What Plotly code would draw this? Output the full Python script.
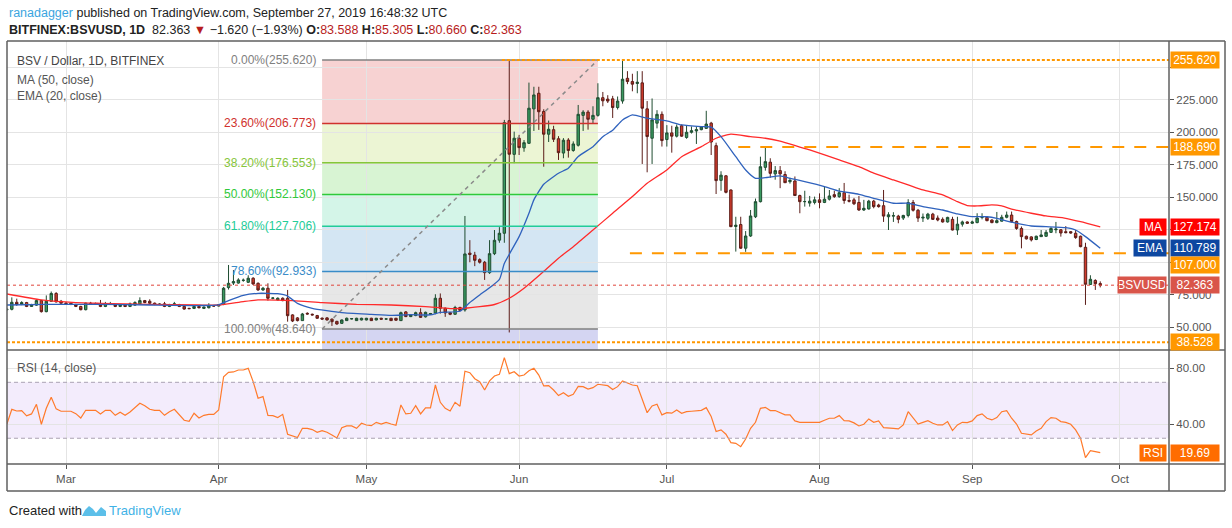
import plotly.graph_objects as go
from plotly.subplots import make_subplots
import pandas as pd

# ------------------------------------------------------------------ data
first_day = "2019-02-17"
last_day = "2019-09-27"

# [open, high, low, close] per day
ohlc_feb = [
    [63.5, 64.5, 62.8, 63.8], [63.8, 73.0, 63.0, 69.2], [69.2, 72.0, 66.5, 67.5],
    [67.5, 70.0, 67.0, 69.0], [69.0, 69.5, 65.5, 66.0], [66.0, 68.0, 65.8, 67.2],
    [67.0, 71.5, 66.5, 70.5], [70.5, 71.0, 61.3, 62.0], [62.0, 74.5, 61.5, 70.0],
    [70.0, 77.5, 69.5, 76.0], [76.0, 77.0, 69.0, 69.5], [70.0, 71.0, 68.0, 68.5],
]
ohlc_mar = [
    [68.5, 69.5, 67.5, 68.0], [68.5, 69.0, 67.0, 67.5], [67.5, 68.0, 65.5, 66.0],
    [66.0, 66.5, 63.0, 63.5], [63.5, 69.0, 63.0, 68.5], [68.5, 69.5, 67.5, 68.0],
    [68.0, 69.0, 67.5, 68.2], [68.0, 71.0, 65.5, 66.0], [66.0, 69.5, 65.5, 68.0],
    [68.0, 69.5, 67.5, 68.2], [67.5, 68.0, 65.5, 66.0], [66.0, 67.5, 65.5, 67.0],
    [67.0, 67.5, 65.5, 66.0], [66.0, 69.0, 65.5, 68.0], [67.0, 70.0, 66.5, 69.0],
    [68.0, 73.0, 67.5, 70.5], [70.5, 71.0, 68.5, 69.0], [70.0, 71.5, 68.0, 68.5],
    [68.5, 69.0, 67.0, 67.5], [67.5, 68.5, 67.0, 67.8], [68.0, 69.5, 65.5, 66.0],
    [66.0, 68.0, 65.5, 67.5], [67.5, 69.5, 67.0, 68.0], [67.5, 68.0, 65.5, 66.0],
    [66.0, 66.5, 63.5, 64.0], [64.5, 65.0, 64.0, 64.3], [64.5, 66.5, 64.0, 66.0],
    [66.0, 66.5, 64.5, 65.0], [64.5, 66.0, 64.0, 65.5], [65.0, 68.5, 64.5, 66.5],
    [66.5, 67.0, 66.0, 66.3],
]
ohlc_apr = [
    [66.3, 67.8, 66.0, 67.5], [67.5, 81.0, 67.0, 80.0], [80.5, 97.9, 79.0, 83.8],
    [84.0, 94.0, 82.5, 85.1], [84.0, 87.7, 83.5, 86.4], [86.0, 87.5, 85.0, 86.2],
    [84.6, 90.0, 84.0, 87.7], [87.7, 88.5, 82.5, 83.3], [83.8, 84.5, 78.0, 78.7],
    [78.7, 81.0, 78.0, 80.0], [80.0, 83.8, 70.5, 72.3], [72.3, 73.0, 71.5, 72.5],
    [71.0, 73.0, 70.5, 72.3], [72.3, 73.0, 70.0, 70.5], [72.3, 78.7, 54.3, 58.9],
    [59.5, 60.0, 54.0, 54.8], [57.2, 57.8, 54.5, 55.1], [55.1, 61.0, 55.0, 60.2],
    [60.7, 61.5, 59.8, 60.2], [60.0, 60.5, 59.0, 59.5], [59.0, 59.5, 56.5, 56.9],
    [57.0, 57.5, 55.8, 56.3], [57.2, 57.8, 55.2, 55.6], [56.2, 56.8, 51.0, 54.3],
    [54.5, 55.0, 52.0, 52.5], [53.0, 56.0, 52.5, 55.6], [55.1, 57.5, 54.8, 56.9],
    [56.4, 57.0, 56.0, 56.6], [55.1, 57.3, 54.8, 56.9], [55.6, 57.3, 55.3, 56.9],
]
ohlc_may = [
    [55.6, 57.2, 55.3, 56.9], [56.9, 57.3, 54.8, 55.1], [55.6, 57.2, 55.3, 56.9],
    [56.9, 57.3, 55.8, 56.2], [56.3, 56.8, 55.8, 56.4], [56.9, 57.2, 54.8, 55.1],
    [56.9, 57.2, 55.0, 55.4], [55.1, 62.0, 54.8, 61.2], [61.8, 62.5, 57.8, 58.2],
    [58.2, 60.0, 57.8, 59.5], [59.0, 62.0, 58.5, 61.2], [61.2, 64.6, 57.2, 57.6],
    [58.0, 62.0, 57.5, 61.5], [59.9, 61.0, 59.5, 60.5], [61.0, 75.4, 60.0, 72.3],
    [72.3, 76.0, 60.5, 64.6], [64.6, 65.2, 58.0, 61.0], [61.2, 61.8, 59.3, 60.0],
    [60.0, 66.5, 59.5, 65.2], [65.2, 65.8, 62.3, 63.0], [63.3, 135.6, 62.0, 106.4],
    [107.0, 117.0, 100.0, 106.0], [105.5, 108.0, 97.0, 101.5], [102.0, 103.0, 99.0, 100.0],
    [100.0, 101.0, 86.4, 92.0], [92.0, 117.0, 91.0, 106.6], [106.6, 124.8, 105.5, 116.9],
    [117.0, 127.0, 115.0, 122.3], [122.3, 209.5, 115.0, 207.4], [208.9, 255.62, 46.0, 183.1],
    [183.0, 200.5, 176.2, 195.4],
]
ohlc_jun = [
    [195.4, 198.0, 182.5, 188.2], [188.0, 194.0, 185.0, 192.0], [191.5, 238.2, 191.0, 218.5],
    [218.0, 235.0, 201.0, 228.7], [230.0, 235.0, 201.8, 215.8], [216.0, 217.7, 173.5, 198.5],
    [198.5, 209.0, 192.5, 202.3], [202.0, 205.0, 192.5, 194.6], [195.0, 197.0, 178.7, 184.3],
    [184.0, 195.5, 180.0, 193.9], [194.0, 195.5, 180.5, 186.0], [186.0, 193.0, 185.0, 191.0],
    [190.0, 221.0, 189.0, 213.8], [213.0, 217.0, 201.0, 215.5], [215.5, 217.0, 202.0, 210.0],
    [210.0, 220.0, 207.0, 213.0], [213.0, 237.7, 212.0, 226.6], [226.6, 231.0, 220.0, 224.2],
    [225.5, 228.5, 222.5, 224.0], [225.7, 228.0, 211.0, 219.0], [219.0, 227.5, 217.5, 224.0],
    [224.0, 255.62, 222.0, 240.8], [241.5, 247.0, 237.0, 239.0], [239.0, 245.0, 231.5, 237.0],
    [237.5, 247.0, 230.0, 238.5], [238.0, 247.0, 175.6, 218.5], [218.0, 224.0, 169.2, 196.7],
    [195.4, 226.0, 175.6, 209.5], [207.0, 217.0, 203.0, 213.8], [213.8, 216.0, 189.0, 193.6],
]
ohlc_jul = [
    [194.4, 205.5, 189.0, 199.5], [199.5, 205.0, 184.3, 197.0], [197.0, 206.0, 196.0, 204.0],
    [205.0, 206.0, 196.5, 197.0], [196.0, 205.0, 195.0, 200.0], [200.0, 204.5, 199.0, 201.2],
    [201.0, 204.5, 191.0, 202.0], [202.0, 204.5, 201.5, 204.0], [203.0, 216.5, 202.5, 206.3],
    [207.0, 208.0, 182.5, 192.5], [189.7, 192.0, 152.5, 162.8], [163.0, 170.0, 155.0, 167.0],
    [166.5, 167.0, 153.0, 153.8], [155.6, 156.0, 127.0, 127.4], [127.5, 135.0, 108.2, 128.5],
    [129.0, 135.0, 110.3, 110.8], [110.8, 124.0, 108.0, 120.2], [120.2, 140.2, 119.5, 135.6],
    [135.0, 149.0, 134.0, 146.6], [146.6, 181.2, 146.0, 173.5], [173.0, 188.9, 170.5, 177.4],
    [177.0, 180.0, 165.0, 168.4], [168.0, 174.0, 163.5, 170.5], [170.5, 174.0, 157.0, 168.0],
    [167.5, 170.0, 161.0, 161.2], [162.0, 165.0, 160.5, 163.0], [162.5, 166.0, 151.0, 151.3],
    [151.3, 152.0, 137.7, 146.6], [146.6, 155.0, 142.8, 146.7], [145.5, 151.0, 142.8, 147.0],
    [146.0, 150.5, 144.5, 148.0],
]
ohlc_aug = [
    [148.0, 153.0, 141.5, 146.0], [146.0, 158.0, 145.5, 148.5], [148.5, 155.6, 147.5, 151.0],
    [152.0, 155.0, 149.5, 150.5], [150.5, 157.0, 149.5, 153.5], [153.5, 161.0, 145.0, 147.5],
    [147.5, 152.0, 146.0, 147.0], [148.0, 149.5, 144.0, 145.0], [146.0, 151.0, 139.5, 140.2],
    [140.2, 148.0, 139.5, 141.5], [141.0, 148.0, 140.5, 147.0], [147.0, 148.0, 141.5, 142.8],
    [144.0, 145.0, 142.0, 142.8], [143.5, 155.6, 131.0, 135.5], [135.0, 138.5, 124.8, 136.5],
    [135.5, 138.5, 131.0, 135.8], [135.5, 136.5, 130.0, 133.0], [134.0, 136.5, 132.5, 136.0],
    [136.0, 148.5, 134.5, 145.9], [146.0, 147.9, 139.0, 140.0], [140.0, 141.0, 131.0, 134.0],
    [134.0, 137.5, 131.0, 134.6], [133.8, 138.0, 132.5, 137.0], [137.0, 138.0, 132.5, 133.0],
    [134.0, 136.0, 131.5, 132.5], [133.0, 134.5, 130.5, 131.0], [131.0, 135.0, 130.5, 134.5],
    [133.0, 135.0, 124.5, 124.8], [124.8, 135.0, 121.0, 129.3], [129.3, 132.0, 127.4, 131.0],
    [131.0, 131.5, 129.5, 130.0],
]
ohlc_sep = [
    [130.0, 132.0, 129.5, 131.0], [130.5, 137.7, 130.0, 134.0], [134.5, 137.7, 133.0, 135.0],
    [134.5, 135.5, 131.5, 132.0], [132.5, 133.0, 130.0, 130.5], [130.5, 138.7, 130.0, 132.0],
    [131.6, 136.5, 131.3, 134.6], [134.6, 139.0, 133.8, 136.3], [136.3, 139.0, 130.5, 131.3],
    [131.3, 132.0, 125.0, 126.0], [126.0, 127.5, 110.7, 119.7], [120.0, 120.5, 117.5, 118.0],
    [119.5, 120.0, 116.0, 117.2], [117.5, 120.5, 117.0, 120.0], [119.7, 124.8, 119.5, 121.0],
    [120.0, 124.8, 119.5, 123.0], [123.0, 127.0, 122.5, 126.0], [125.0, 131.0, 122.3, 125.5],
    [125.0, 125.5, 119.7, 122.5], [123.5, 127.8, 122.3, 122.8], [123.5, 124.0, 122.0, 122.5],
    [122.3, 124.8, 118.0, 119.0], [120.0, 120.5, 111.5, 112.0], [111.5, 115.0, 67.2, 83.1],
    [82.9, 90.0, 82.5, 86.9], [86.0, 86.9, 78.7, 83.5], [83.588, 85.305, 80.66, 82.363],
]

# RSI(14) per day
rsi_feb = [40.2, 50.7, 49.5, 49.8, 46, 47.4, 54.3, 40, 51.4, 59.3, 51, 49.3]
rsi_mar = [49.3, 49.3, 47.6, 44.5, 50, 50, 50, 47.4, 50, 50, 46.4, 48.6, 46.4, 48.8, 51.9, 55,
           53.3, 50.7, 50, 50, 46.4, 49, 50.7, 46.7, 42.9, 42.1, 47.9, 44.5, 46.4, 47.1, 47.1]
rsi_apr = [50.2, 74, 77.1, 77.4, 78.8, 78.8, 80, 70.5, 58.6, 59.8, 46.4, 46.2, 44.8, 47.1, 32.9,
           31.7, 30.5, 37.1, 37.1, 36.2, 34.3, 35.5, 34.3, 32.4, 30.2, 37.6, 38.8, 38.8, 37.1, 40.7]
rsi_may = [39.5, 39, 41.4, 40.2, 41.4, 40.2, 39.3, 53.8, 47.4, 47.9, 53.3, 47.4, 51.7, 51.7, 68.1,
           55.7, 51.4, 49.5, 55.7, 52.9, 77.9, 76.9, 72.6, 70.5, 64.5, 71, 74.5, 75.7, 87.6, 76.2, 77.6]
rsi_jun = [74.5, 75.2, 78.3, 80, 75.2, 67.4, 67.6, 64.5, 60.5, 62.6, 60, 61.4, 67.1, 66.9, 65.2,
           66.2, 68.6, 68.1, 67.6, 64.8, 66.9, 71, 69.3, 68.1, 67.6, 57.4, 48.3, 53.1, 54.3, 46.7]
rsi_jul = [48.3, 47.9, 50.2, 47.9, 49, 49.3, 49.8, 50, 51.9, 45.5, 34.8, 36, 32.9, 26.9, 26.4, 24,
           29.5, 37.1, 41.4, 51.4, 52.1, 49.8, 49.8, 48.3, 46.7, 46.7, 42.4, 41.4, 41.4, 41.4, 41.9]
rsi_aug = [41.4, 42.9, 44.3, 44.3, 46.2, 42.6, 42.4, 41, 38.8, 40, 43.8, 41.4, 42.4, 37.6, 37.6,
           37.1, 36.7, 39.5, 49, 44.3, 40.2, 41.4, 42.6, 40.7, 39.5, 39.5, 41.9, 35.5, 39.5, 41.4, 41.2]
rsi_sep = [42.4, 46.2, 47.4, 44.3, 43.1, 44.8, 49, 49.8, 44.3, 40.2, 33.6, 32.9, 32.4, 35.2, 37.1,
           41.9, 44.8, 44.3, 41.9, 41.4, 40, 36, 30, 16.2, 21.2, 20.5, 19.69]

# MA(50) and EMA(20)
ma_dates = ["2019-02-17", "2019-02-24", "2019-03-03", "2019-03-08", "2019-03-18", "2019-03-28",
            "2019-04-01", "2019-04-06", "2019-04-09", "2019-04-16", "2019-04-22", "2019-04-29",
            "2019-05-06", "2019-05-13", "2019-05-18", "2019-05-21", "2019-05-27", "2019-05-30",
            "2019-06-02", "2019-06-06", "2019-06-09", "2019-06-12", "2019-06-16", "2019-06-20",
            "2019-06-24", "2019-06-27", "2019-07-01", "2019-07-04", "2019-07-08", "2019-07-11",
            "2019-07-14", "2019-07-18", "2019-07-21", "2019-07-24", "2019-07-28", "2019-07-30",
            "2019-08-05", "2019-08-09", "2019-08-12", "2019-08-16", "2019-08-19", "2019-08-22",
            "2019-08-26", "2019-08-29", "2019-08-31", "2019-09-02", "2019-09-05", "2019-09-07",
            "2019-09-09", "2019-09-13", "2019-09-16", "2019-09-20", "2019-09-23", "2019-09-27"]
ma_values = [75.6, 71.0, 68.9, 68.4, 67.6, 67.1, 67.1, 69.7, 71.0, 70.5, 69.0, 67.6, 67.1, 65.9,
             64.3, 64.6, 67.5, 72.3, 80.0, 93.0, 103.1, 112.0, 124.8, 137.7, 150.5, 160.8, 171.0,
             181.2, 188.9, 195.4, 198.5, 196.6, 195.4, 193.1, 188.6, 186.4, 178.7, 173.5, 168.5,
             163.3, 159.5, 155.6, 151.8, 146.6, 143.6, 143.3, 144.1, 143.3, 140.8, 137.7, 135.6,
             133.8, 131.2, 127.174]

ema_dates = ["2019-02-17", "2019-02-25", "2019-03-08", "2019-03-18", "2019-03-28", "2019-04-01",
             "2019-04-03", "2019-04-06", "2019-04-09", "2019-04-13", "2019-04-15", "2019-04-17",
             "2019-04-20", "2019-04-26", "2019-05-02", "2019-05-06", "2019-05-10", "2019-05-14",
             "2019-05-16", "2019-05-20", "2019-05-22", "2019-05-24", "2019-05-28", "2019-05-29",
             "2019-06-01", "2019-06-03", "2019-06-04", "2019-06-06", "2019-06-09", "2019-06-11",
             "2019-06-13", "2019-06-16", "2019-06-18", "2019-06-20", "2019-06-22", "2019-06-24",
             "2019-06-27", "2019-07-01", "2019-07-04", "2019-07-08", "2019-07-10", "2019-07-12",
             "2019-07-15", "2019-07-17", "2019-07-19", "2019-07-21", "2019-07-24", "2019-07-26",
             "2019-07-29", "2019-08-02", "2019-08-05", "2019-08-09", "2019-08-12", "2019-08-16",
             "2019-08-19", "2019-08-22", "2019-08-26", "2019-08-29", "2019-09-01", "2019-09-04",
             "2019-09-06", "2019-09-09", "2019-09-13", "2019-09-16", "2019-09-20", "2019-09-22",
             "2019-09-24", "2019-09-27"]
ema_values = [67.1, 67.6, 67.6, 67.1, 66.7, 67.3, 70.5, 74.6, 76.1, 75.8, 74.0, 68.4, 64.6, 61.2,
              59.9, 59.1, 59.7, 59.5, 61.5, 62.3, 69.0, 74.8, 86.9, 99.0, 119.7, 137.7, 148.0,
              160.0, 168.5, 172.3, 181.3, 188.9, 196.6, 201.5, 209.5, 213.3, 210.8, 208.7, 205.6,
              204.3, 204.0, 196.6, 181.2, 171.0, 164.6, 165.1, 166.4, 164.6, 162.0, 158.2, 154.8,
              152.3, 149.2, 145.4, 145.4, 142.8, 140.2, 137.2, 135.1, 135.0, 133.8, 130.8, 127.9,
              127.4, 126.6, 124.8, 119.7, 110.789]

# Fibonacci retracement
fib_start, fib_end = "2019-04-22", "2019-06-17"
fib_pcts = ["0.00%", "23.60%", "38.20%", "50.00%", "61.80%", "78.60%", "100.00%"]
fib_levels = [255.620, 206.773, 176.553, 152.130, 127.706, 92.933, 48.640]

# Horizontal levels
level_top, level_mid, level_sr, level_low = 255.620, 188.690, 107.000, 38.528
level_top_from, level_mid_from, level_sr_from = "2019-05-28 12:00", "2019-07-15 12:00", "2019-06-23 12:00"
last_price, last_ma, last_ema, last_rsi = 82.363, 127.174, 110.789, 19.69

price_ticks = [50, 75, 100, 125, 150, 175, 200, 225, 250]
price_ticktext = ["50.000", "75.000", "", "", "150.000", "175.000", "200.000", "225.000", ""]
rsi_ticks = [40, 80]
rsi_ticktext = ["40.00", "80.00"]

# ------------------------------------------------------------------ build
ohlc = ohlc_feb + ohlc_mar + ohlc_apr + ohlc_may + ohlc_jun + ohlc_jul + ohlc_aug + ohlc_sep
rsi = rsi_feb + rsi_mar + rsi_apr + rsi_may + rsi_jun + rsi_jul + rsi_aug + rsi_sep
dates = pd.date_range(first_day, last_day, freq="D")
opens = [r[0] for r in ohlc]
highs = [r[1] for r in ohlc]
lows = [r[2] for r in ohlc]
closes = [r[3] for r in ohlc]

W, H = 1232, 528
PL, PR, PT, PB = 7, 1169, 41, 464   # plot area in pixels
SPLIT = 350
XR = ["2019-02-17 00:30", "2019-10-10 23:00"]
FONT = "Liberation Sans, Arial, sans-serif"


def pxx(x):
    return (x - PL) / (PR - PL)


def pxy(y):
    return (PB - y) / (PB - PT)


fig = make_subplots(rows=2, cols=1, shared_xaxes=True, vertical_spacing=0,
                    row_heights=[SPLIT - PT, PB - SPLIT])

fig.add_trace(go.Candlestick(
    x=dates, open=opens, high=highs, low=lows, close=closes,
    increasing=dict(line=dict(color="#1f4d31", width=1), fillcolor="#3a9a60"),
    decreasing=dict(line=dict(color="#5c1d18", width=1), fillcolor="#d13b2c"),
    whiskerwidth=0, showlegend=False, hoverinfo="skip"), row=1, col=1)

fig.add_trace(go.Scatter(x=ma_dates, y=ma_values, mode="lines",
                         line=dict(color="#ff2a2a", width=1.3, shape="spline", smoothing=0.5),
                         showlegend=False, hoverinfo="skip"), row=1, col=1)
fig.add_trace(go.Scatter(x=ema_dates, y=ema_values, mode="lines",
                         line=dict(color="#2f62bd", width=1.3, shape="spline", smoothing=0.5),
                         showlegend=False, hoverinfo="skip"), row=1, col=1)

fig.add_trace(go.Scatter(x=dates, y=rsi, mode="lines",
                         line=dict(color="#ff7a2b", width=1.2),
                         showlegend=False, hoverinfo="skip"), row=2, col=1)

shapes = []
# fib zones
zone_fills = ["rgba(225,90,90,0.27)", "rgba(170,210,60,0.22)", "rgba(100,210,80,0.25)",
              "rgba(60,210,150,0.22)", "rgba(60,140,200,0.22)", "rgba(120,120,120,0.18)"]
for i, fc in enumerate(zone_fills):
    shapes.append(dict(type="rect", xref="x", yref="y", x0=fib_start, x1=fib_end,
                       y0=fib_levels[i + 1], y1=fib_levels[i], fillcolor=fc,
                       line=dict(width=0), layer="below"))
shapes.append(dict(type="rect", xref="x", yref="y", x0=fib_start, x1=fib_end,
                   y0=20, y1=fib_levels[-1], fillcolor="rgba(70,75,200,0.23)",
                   line=dict(width=0), layer="below"))
fib_colors = ["#808080", "#d0312d", "#86c53a", "#31c93a", "#22cc97", "#3a8cc8", "#808080"]
for lv, c in zip(fib_levels, fib_colors):
    shapes.append(dict(type="line", xref="x", yref="y", x0=fib_start, x1=fib_end,
                       y0=lv, y1=lv, line=dict(color=c, width=1.5)))
# fib trend line
shapes.append(dict(type="line", xref="x", yref="y", x0=fib_start, x1=fib_end,
                   y0=fib_levels[-1], y1=fib_levels[0],
                   line=dict(color="#8a8a8a", width=1.5, dash="4px,4px")))

ORANGE = "#ff9800"
shapes.append(dict(type="line", xref="x", yref="y", x0=level_top_from, x1=XR[1],
                   y0=level_top, y1=level_top, line=dict(color=ORANGE, width=2, dash="3px,2px")))
shapes.append(dict(type="line", xref="x", yref="y", x0=level_mid_from, x1=XR[1],
                   y0=level_mid, y1=level_mid, line=dict(color=ORANGE, width=2, dash="12px,10px")))
shapes.append(dict(type="line", xref="x", yref="y", x0=level_sr_from, x1=XR[1],
                   y0=level_sr, y1=level_sr, line=dict(color=ORANGE, width=2, dash="12px,10px")))
shapes.append(dict(type="line", xref="x", yref="y", x0=XR[0], x1=XR[1],
                   y0=level_low, y1=level_low, line=dict(color=ORANGE, width=2, dash="3px,2px")))
shapes.append(dict(type="line", xref="x", yref="y", x0=XR[0], x1=XR[1],
                   y0=last_price, y1=last_price, line=dict(color="#e0453a", width=1, dash="dot")))

# RSI band
shapes.append(dict(type="rect", xref="x2", yref="y2", x0=XR[0], x1=XR[1], y0=30, y1=70,
                   fillcolor="rgba(150,80,230,0.11)", line=dict(width=0), layer="below"))
for lv in (30, 70):
    shapes.append(dict(type="line", xref="x2", yref="y2", x0=XR[0], x1=XR[1], y0=lv, y1=lv,
                       line=dict(color="#aaa3b3", width=1, dash="4px,3px")))

# frame
BORDER = dict(color="#5f5f5f", width=1.5)
for (x0, y0, x1, y1) in [(7, 41, 1225, 41), (7, 491, 1225, 491), (7, 41, 7, 491),
                         (1225, 41, 1225, 491), (1169, 41, 1169, 491),
                         (7, 350, 1225, 350), (7, 464, 1225, 464)]:
    shapes.append(dict(type="line", xref="paper", yref="paper", x0=pxx(x0), x1=pxx(x1),
                       y0=pxy(y0), y1=pxy(y1), line=BORDER, layer="above"))

# TradingView logo (simple)
logo_pts = [(82, 516), (85, 510), (89, 506), (93, 509), (96, 513), (101, 507), (106, 511), (106, 516)]
path = "M " + " L ".join(f"{pxx(a):.5f},{pxy(b):.5f}" for a, b in logo_pts) + " Z"
shapes.append(dict(type="path", xref="paper", yref="paper", path=path,
                   fillcolor="#5cbfe9", line=dict(width=0)))

ann = []
# header
ann.append(dict(xref="paper", yref="paper", x=pxx(7), y=pxy(13), xanchor="left", yanchor="middle",
                showarrow=False, font=dict(size=12.5, color="#222", family=FONT),
                text="<span style='color:#3ba5e0'>ranadagger</span> published on TradingView.com, "
                     "September 27, 2019 16:48:32 UTC"))
RED = "#b71c1c"
ann.append(dict(xref="paper", yref="paper", x=pxx(7), y=pxy(30), xanchor="left", yanchor="middle",
                showarrow=False, font=dict(size=12.5, color="#222", family=FONT),
                text=(f"<b>BITFINEX:BSVUSD, 1D</b>  82.363 <span style='color:{RED}'>▼</span> "
                      f"−1.620 (−1.93%) <b>O:</b><span style='color:{RED}'>83.588</span> "
                      f"<b>H:</b><span style='color:{RED}'>85.305</span> "
                      f"<b>L:</b><span style='color:{RED}'>80.660</span> "
                      f"<b>C:</b><span style='color:{RED}'>82.363</span>")))
# pane legends
for txt, yy, col in [("BSV / Dollar, 1D, BITFINEX", 61, "#444"),
                     ("MA (50, close)", 80, "#555"), ("EMA (20, close)", 96, "#555"),
                     ("RSI (14, close)", 368, "#555")]:
    ann.append(dict(xref="paper", yref="paper", x=pxx(15), y=pxy(yy), xanchor="left",
                    yanchor="middle", showarrow=False, text=txt,
                    font=dict(size=12, color=col, family=FONT)))
# fib labels
for pct, lv, c in zip(fib_pcts, fib_levels, fib_colors):
    ann.append(dict(xref="x", yref="y", x=fib_start, y=lv, xanchor="right", yanchor="middle",
                    xshift=-4, showarrow=False, text=f"{pct}({lv:.3f})",
                    font=dict(size=12, color=c, family=FONT)))


def value_label(yref, y, text, bg, yshift=0):
    ann.append(dict(xref="paper", yref=yref, x=pxx(1170), y=y, xanchor="left", yanchor="middle",
                    showarrow=False, text=text, bgcolor=bg, width=46, height=14, borderpad=1,
                    align="center", yshift=yshift,
                    font=dict(size=12, color="white", family=FONT)))


def name_label(yref, y, text, bg, w):
    ann.append(dict(xref="paper", yref=yref, x=pxx(1167), y=y, xanchor="right", yanchor="middle",
                    showarrow=False, text=text, bgcolor=bg, width=w, height=14, borderpad=1,
                    align="center", font=dict(size=12, color="white", family=FONT)))


value_label("y", level_top, f"{level_top:.3f}", ORANGE)
value_label("y", level_mid, f"{level_mid:.3f}", ORANGE)
value_label("y", last_ma, f"{last_ma:.3f}", "#ff0000")
name_label("y", last_ma, "MA", "#ff0000", 24)
value_label("y", last_ema, f"{last_ema:.3f}", "#0d47a1")
name_label("y", last_ema, "EMA", "#0d47a1", 30)
value_label("y", level_sr, f"{level_sr:.3f}", ORANGE, yshift=-12)   # pushed below the EMA tag
value_label("y", last_price, f"{last_price:.3f}", "#d9554a")
name_label("y", last_price, "BSVUSD", "#d9554a", 46)
value_label("y", level_low, f"{level_low:.3f}", ORANGE)
value_label("y2", last_rsi, f"{last_rsi:.2f}", "#ff6d00")
name_label("y2", last_rsi, "RSI", "#ff6d00", 24)

# footer
ann.append(dict(xref="paper", yref="paper", x=pxx(7), y=pxy(510), xanchor="left", yanchor="middle",
                showarrow=False, text="Created with", font=dict(size=13, color="#222", family=FONT)))
ann.append(dict(xref="paper", yref="paper", x=pxx(107), y=pxy(510), xanchor="left", yanchor="middle",
                showarrow=False, text="TradingView", font=dict(size=13, color="#3fb2e6", family=FONT)))

GRID = "#e4e4e4"
fig.update_xaxes(range=XR, type="date", showgrid=True, gridcolor=GRID, gridwidth=1,
                 dtick="M1", tick0="2019-03-01", tickformat="%b", zeroline=False,
                 showline=False)
fig.update_xaxes(showticklabels=False, ticks="", row=1, col=1)
fig.update_xaxes(ticks="outside", ticklen=4, tickcolor="#555",
                 tickfont=dict(size=11.5, color="#555", family=FONT), row=2, col=1)
fig.update_yaxes(side="right", range=[32.5, 270.2], tickvals=price_ticks, ticktext=price_ticktext,
                 showgrid=True, gridcolor=GRID, zeroline=False, ticks="outside", ticklen=4,
                 tickcolor="#555", tickfont=dict(size=11.5, color="#555", family=FONT),
                 row=1, col=1)
fig.update_yaxes(side="right", range=[11.6, 93.1], tickvals=rsi_ticks, ticktext=rsi_ticktext,
                 showgrid=True, gridcolor=GRID, zeroline=False, ticks="outside", ticklen=4,
                 tickcolor="#555", tickfont=dict(size=11.5, color="#555", family=FONT),
                 row=2, col=1)

fig.update_layout(width=W, height=H, autosize=False,
                  margin=dict(l=PL, r=W - PR, t=PT, b=H - PB),
                  paper_bgcolor="white", plot_bgcolor="white",
                  font=dict(family=FONT, color="#333"),
                  showlegend=False, hovermode=False,
                  xaxis_rangeslider_visible=False,
                  shapes=shapes, annotations=ann)

# remove the browser's default 8px body margin so the figure sits at the window corner
fig.write_html("out.html", config={"displayModeBar": False},
               post_script="document.body.style.margin='0';document.body.style.overflow='hidden';")
